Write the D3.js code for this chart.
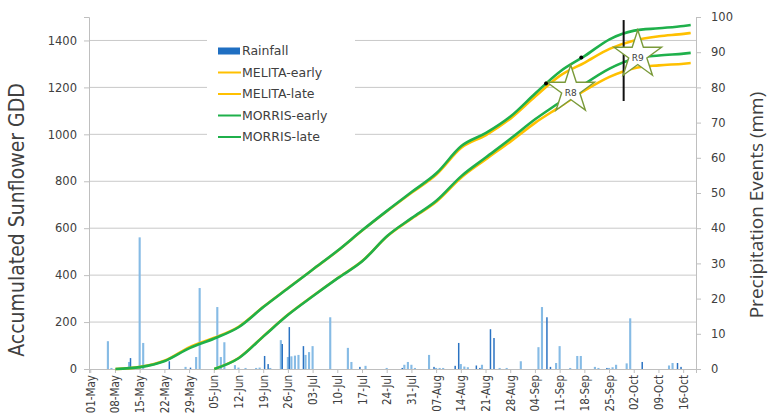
<!DOCTYPE html>
<html>
<head>
<meta charset="utf-8">
<script src="https://cdn.jsdelivr.net/npm/d3@7"></script>
<style>
  body { margin: 0; background: #fff; }
  text { font-family: "DejaVu Sans", sans-serif; fill: #404040; }
  .narrow { font-family: "Liberation Sans Narrow", "DejaVu Sans Condensed", "DejaVu Sans", sans-serif; font-stretch: condensed; }
</style>
</head>
<body>
<div id="chart"></div>
<script>

// season runs from 01-May to 19-Oct, one category per day
var season_start = "01-May", season_end = "19-Oct";

// dates of the weekly tick labels
var tick_labels = ["01-May","08-May","15-May","22-May","29-May","05-Jun","12-Jun","19-Jun","26-Jun",
                   "03-Jul","10-Jul","17-Jul","24-Jul","31-Jul","07-Aug","14-Aug","21-Aug","28-Aug",
                   "04-Sep","11-Sep","18-Sep","25-Sep","02-Oct","09-Oct","16-Oct"];

// accumulated GDD readings
var gdd_dates = ["08-May","15-May","22-May","29-May","05-Jun","12-Jun","19-Jun","26-Jun","03-Jul",
                 "10-Jul","17-Jul","24-Jul","31-Jul","07-Aug","14-Aug","21-Aug","28-Aug","04-Sep",
                 "11-Sep","18-Sep","25-Sep","02-Oct","09-Oct","16-Oct","18-Oct"];
var melita_early = [0, 9, 36, 93, 133, 181, 266, 346, 425, 504, 591, 673, 752, 830, 943, 997, 1068, 1162, 1250, 1306, 1364, 1400, 1418, 1428, 1432];
var melita_late  = [null, null, null, null, 0, 48, 141, 233, 312, 388, 461, 566, 642, 714, 816, 894, 970, 1050, 1118, 1187, 1245, 1282, 1294, 1301, 1304];
var morris_early = [0, 8, 34, 89, 130, 179, 265, 345, 425, 505, 592, 675, 755, 835, 950, 1006, 1077, 1175, 1268, 1334, 1405, 1442, 1452, 1462, 1466];
var morris_late  = [null, null, null, null, 0, 47, 140, 232, 311, 387, 460, 567, 644, 718, 822, 902, 982, 1065, 1138, 1215, 1280, 1322, 1336, 1344, 1347];

// rainfall events (mm), two gauges
var rain_light = [["06-May",7.9],["07-May",0.3],["12-May",2.0],["15-May",37.4],["16-May",7.4],["28-May",0.6],
                  ["31-May",3.4],["01-Jun",23.0],["06-Jun",17.6],["07-Jun",3.4],["08-Jun",7.6],["11-Jun",1.1],
                  ["12-Jun",0.4],["14-Jun",0.3],["17-Jun",0.3],["18-Jun",0.4],["21-Jun",0.3],["24-Jun",8.2],
                  ["26-Jun",3.4],["27-Jun",3.6],["28-Jun",3.8],["29-Jun",4.0],["01-Jul",4.0],["02-Jul",4.8],
                  ["03-Jul",6.5],["08-Jul",14.7],["13-Jul",6.0],["14-Jul",2.0],["18-Jul",0.9],["24-Jul",0.3],
                  ["29-Jul",1.2],["30-Jul",2.0],["31-Jul",1.2],["01-Aug",0.3],["05-Aug",4.0],["07-Aug",0.3],
                  ["08-Aug",0.3],["09-Aug",0.3],["14-Aug",1.4],["15-Aug",0.7],["16-Aug",0.5],["20-Aug",1.2],
                  ["25-Aug",0.3],["27-Aug",0.3],["31-Aug",2.2],["05-Sep",6.2],["06-Sep",17.6],["10-Sep",1.7],
                  ["11-Sep",6.5],["14-Sep",0.3],["16-Sep",3.7],["17-Sep",3.7],["21-Sep",0.6],["22-Sep",0.3],
                  ["25-Sep",0.3],["26-Sep",0.5],["27-Sep",1.2],["30-Sep",1.6],["01-Oct",14.4],["12-Oct",1.0],
                  ["13-Oct",1.7]];
var rain_dark = [["12-May",3.1],["23-May",2.2],["29-May",0.4],["19-Jun",3.7],["20-Jun",1.4],["24-Jun",7.1],
                 ["26-Jun",11.9],["30-Jun",6.5],["16-Jul",0.6],["28-Jul",0.3],["06-Aug",0.6],["12-Aug",0.9],
                 ["13-Aug",7.4],["18-Aug",1.0],["19-Aug",0.3],["22-Aug",11.3],["23-Aug",8.8],["07-Sep",14.7],
                 ["08-Sep",0.6],["24-Sep",0.3],["04-Oct",2.0],["14-Oct",1.7],["15-Oct",0.6]];

// growth stage annotations
var stage_names = ["R8", "R9"];
var stage_dates = ["14-Sep", "03-Oct"];
var stage_gdd   = [1189, 1338];
var dot_dates = ["07-Sep", "17-Sep"];
var dot_gdd   = [1217, 1327];
var cut_date = "29-Sep", cut_from = 1142, cut_to = 1487;

var gdd_ticks = [0, 200, 400, 600, 800, 1000, 1200, 1400];
var rain_ticks = [0, 10, 20, 30, 40, 50, 60, 70, 80, 90, 100];

// chart size
var margin = {top: 17, right: 75, bottom: 44, left: 89},
    width = 771 - margin.left - margin.right,
    height = 413 - margin.top - margin.bottom;

var parse_day = d3.timeParse("%d-%b-%Y");
function day(s) { return parse_day(s + "-2017"); }
function key(s) { return +day(s); }

var all_days = d3.timeDay.range(day(season_start), d3.timeDay.offset(day(season_end), 1));

var x = d3.scaleBand().domain(all_days.map(function(d) { return +d; })).range([0, width]).padding(0);
var bw = x.bandwidth();
function xc(s) { return x(key(s)) + bw / 2; }

var y_gdd = d3.scaleLinear().domain([0, 1500]).range([height, 0]);
var y_rain = d3.scaleLinear().domain([0, 100]).range([height, 0]);

var svg = d3.select("#chart").append("svg")
    .attr("width", 771)
    .attr("height", 413)
  .append("g")
    .attr("transform", "translate(" + margin.left + "," + margin.top + ")");

// gridlines
svg.selectAll(".grid").data(gdd_ticks.slice(1)).enter().append("line")
    .attr("x1", 0).attr("x2", width)
    .attr("y1", function(d) { return y_gdd(d); })
    .attr("y2", function(d) { return y_gdd(d); })
    .attr("stroke", "#c9c9c9").attr("stroke-width", 1);

// left axis
var left_axis = svg.append("g")
    .call(d3.axisLeft(y_gdd).tickValues(gdd_ticks).tickFormat(d3.format("d")).tickSize(5).tickPadding(7));
left_axis.select(".domain").attr("stroke", "#bfbfbf");
left_axis.selectAll(".tick line").attr("stroke", "#bfbfbf");
left_axis.selectAll("text").style("font-size", "11.5px").attr("fill", "#404040")
    .style("font-family", "'DejaVu Sans', sans-serif");

// right axis
var right_axis = svg.append("g")
    .attr("transform", "translate(" + width + ",0)")
    .call(d3.axisRight(y_rain).tickValues(rain_ticks).tickSize(5).tickPadding(10));
right_axis.select(".domain").attr("stroke", "#bfbfbf");
right_axis.selectAll(".tick line").attr("stroke", "#bfbfbf");
right_axis.selectAll("text").style("font-size", "11.5px").attr("fill", "#404040")
    .style("font-family", "'DejaVu Sans', sans-serif");

// bottom axis
var bottom_axis = svg.append("g")
    .attr("transform", "translate(0," + height + ")")
    .call(d3.axisBottom(x)
        .tickValues(tick_labels.map(key))
        .tickFormat(d3.timeFormat("%d-%b"))
        .tickSize(4).tickPadding(4));
bottom_axis.select(".domain").attr("stroke", "#bfbfbf");
bottom_axis.selectAll(".tick line").attr("stroke", "#bfbfbf");
bottom_axis.selectAll("text")
    .attr("class", "narrow")
    .style("font-size", "11.5px")
    .attr("fill", "#404040")
    .attr("text-anchor", "end")
    .attr("transform", "rotate(-90)")
    .attr("x", -6).attr("y", 0).attr("dy", "0.35em");

// rainfall bars, two gauges side by side
svg.selectAll(".rain-light").data(rain_light).enter().append("rect")
    .attr("class", "rain-light")
    .attr("x", function(d) { return x(key(d[0])) + 0.2; })
    .attr("width", bw * 0.6)
    .attr("y", function(d) { return y_rain(d[1]); })
    .attr("height", function(d) { return height - y_rain(d[1]); })
    .attr("fill", "#86bbe5");

svg.selectAll(".rain-dark").data(rain_dark).enter().append("rect")
    .attr("class", "rain-dark")
    .attr("x", function(d) { return x(key(d[0])) + bw * 0.55; })
    .attr("width", bw * 0.42)
    .attr("y", function(d) { return y_rain(d[1]); })
    .attr("height", function(d) { return height - y_rain(d[1]); })
    .attr("fill", "#2a72c2");

// GDD lines
var gdd_line = d3.line()
    .defined(function(d) { return d != null; })
    .x(function(d, i) { return xc(gdd_dates[i]); })
    .y(function(d) { return y_gdd(d); })
    .curve(d3.curveMonotoneX);

var series = [
    {name: "MELITA-early", values: melita_early, colour: "#ffc000"},
    {name: "MELITA-late",  values: melita_late,  colour: "#ffc000"},
    {name: "MORRIS-early", values: morris_early, colour: "#1fb04b"},
    {name: "MORRIS-late",  values: morris_late,  colour: "#1fb04b"}
];

series.forEach(function(s) {
    svg.append("path")
        .datum(s.values)
        .attr("fill", "none")
        .attr("stroke", s.colour)
        .attr("stroke-width", 2.6)
        .attr("stroke-linejoin", "round")
        .attr("d", gdd_line);
});

// maturity cut line
svg.append("line")
    .attr("x1", xc(cut_date)).attr("x2", xc(cut_date))
    .attr("y1", y_gdd(cut_from)).attr("y2", y_gdd(cut_to))
    .attr("stroke", "#111").attr("stroke-width", 2);

// stage stars
var star = d3.symbol().type(d3.symbolStar).size(700);
stage_names.forEach(function(n, i) {
    var g = svg.append("g")
        .attr("transform", "translate(" + xc(stage_dates[i]) + "," + y_gdd(stage_gdd[i]) + ")");
    g.append("path")
        .attr("d", star)
        .attr("fill", "#fff")
        .attr("stroke", "#7a9a3a")
        .attr("stroke-width", 1.4);
    g.append("text")
        .attr("text-anchor", "middle")
        .attr("dy", "0.45em")
        .attr("y", 2)
        .style("font-size", "9px")
        .attr("fill", "#595959")
        .text(n);
});

// black dots on the early line
dot_dates.forEach(function(dd, i) {
    svg.append("circle")
        .attr("cx", xc(dd)).attr("cy", y_gdd(dot_gdd[i]))
        .attr("r", 2).attr("fill", "#000");
});

// legend
var legend = svg.append("g").attr("transform", "translate(118,18)");
legend.append("rect")
    .attr("x", 0).attr("y", 0).attr("width", 148).attr("height", 112)
    .attr("fill", "#fff");

var legend_names = ["Rainfall", "MELITA-early", "MELITA-late", "MORRIS-early", "MORRIS-late"];
var legend_colours = ["#1f6fc2", "#ffc000", "#ffc000", "#1fb04b", "#1fb04b"];
legend_names.forEach(function(n, i) {
    var ly = 16 + i * 21.5;
    if (i == 0) {
        legend.append("rect")
            .attr("x", 11).attr("y", ly - 3.5).attr("width", 22).attr("height", 7)
            .attr("fill", legend_colours[i]);
    } else {
        legend.append("line")
            .attr("x1", 11).attr("x2", 34).attr("y1", ly).attr("y2", ly)
            .attr("stroke", legend_colours[i]).attr("stroke-width", 2);
    }
    legend.append("text")
        .attr("x", 35).attr("y", ly).attr("dy", "0.35em")
        .style("font-size", "12.5px")
        .attr("fill", "#262626")
        .text(n);
});

// axis titles
svg.append("text")
    .attr("class", "narrow")
    .attr("transform", "translate(" + (-65) + "," + (height / 2 + 27) + ") rotate(-90)")
    .attr("text-anchor", "middle")
    .style("font-size", "21px")
    .attr("fill", "#262626")
    .text("Accumulated Sunflower  GDD");

svg.append("text")
    .attr("transform", "translate(" + (width + 67) + "," + (height / 2 + 12) + ") rotate(-90)")
    .attr("text-anchor", "middle")
    .style("font-size", "19px")
    .style("font-family", "'Open Sans', sans-serif")
    .attr("fill", "#262626")
    .text("Precipitation Events (mm)");

</script>
</body>
</html>
